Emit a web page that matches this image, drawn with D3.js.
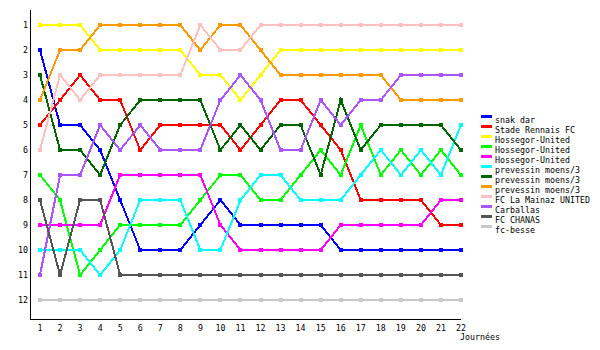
<!DOCTYPE html>
<html>
<head>
<meta charset="utf-8">
<script src="https://cdn.jsdelivr.net/npm/d3@7"></script>
<style>
  body { margin: 0; background: #fff; }
  text { font-family: "DejaVu Sans Mono", monospace; font-size: 8.3px; fill: #000; }
</style>
</head>
<body>
<script>
var width = 600,
    height = 350;

var rounds = d3.range(1, 23);
var rankTicks = d3.range(1, 13);

var teams = ['snak dar', 'Stade Rennais FC', 'Hossegor-United', 'Hossegor-United',
    'Hossegor-United', 'prevessin moens/3', 'prevessin moens/3', 'prevessin moens/3',
    'FC La Mainaz UNITED', 'Carballas', 'FC CHANAS', 'fc-besse'];

var colors = ['#0000ff', '#ff0000', '#ffff00', '#00ff00', '#ff00ff', '#00ffff',
    '#006400', '#ff9900', '#ffc0c0', '#aa55ff', '#555555', '#c8c8c8'];

// rank per round, rounds 1..22
var snakDar      = [2, 5, 5, 6, 8, 10, 10, 10, 9, 8, 9, 9, 9, 9, 9, 10, 10, 10, 10, 10, 10, 10];
var stadeRennais = [5, 4, 3, 4, 4, 6, 5, 5, 5, 5, 6, 5, 4, 4, 5, 6, 8, 8, 8, 8, 9, 9];
var hossegorA    = [1, 1, 1, 2, 2, 2, 2, 2, 3, 3, 4, 3, 2, 2, 2, 2, 2, 2, 2, 2, 2, 2];
var hossegorB    = [7, 8, 11, 10, 9, 9, 9, 9, 8, 7, 7, 8, 8, 7, 6, 7, 5, 7, 6, 7, 6, 7];
var hossegorC    = [9, 9, 9, 9, 7, 7, 7, 7, 7, 9, 10, 10, 10, 10, 10, 9, 9, 9, 9, 9, 8, 8];
var prevessinA   = [10, 10, 10, 11, 10, 8, 8, 8, 10, 10, 8, 7, 7, 8, 8, 8, 7, 6, 7, 6, 7, 5];
var prevessinB   = [3, 6, 6, 7, 5, 4, 4, 4, 4, 6, 5, 6, 5, 5, 7, 4, 6, 5, 5, 5, 5, 6];
var prevessinC   = [4, 2, 2, 1, 1, 1, 1, 1, 2, 1, 1, 2, 3, 3, 3, 3, 3, 3, 4, 4, 4, 4];
var laMainaz     = [6, 3, 4, 3, 3, 3, 3, 3, 1, 2, 2, 1, 1, 1, 1, 1, 1, 1, 1, 1, 1, 1];
var carballas    = [11, 7, 7, 5, 6, 5, 6, 6, 6, 4, 3, 4, 6, 6, 4, 5, 4, 4, 3, 3, 3, 3];
var chanas       = [8, 11, 8, 8, 11, 11, 11, 11, 11, 11, 11, 11, 11, 11, 11, 11, 11, 11, 11, 11, 11, 11];
var besse        = [12, 12, 12, 12, 12, 12, 12, 12, 12, 12, 12, 12, 12, 12, 12, 12, 12, 12, 12, 12, 12, 12];

var series = [snakDar, stadeRennais, hossegorA, hossegorB, hossegorC, prevessinA,
    prevessinB, prevessinC, laMainaz, carballas, chanas, besse];

var svg = d3.select('body')
    .append('svg')
    .attr('width', width)
    .attr('height', height);

var x = d3.scaleLinear()
    .domain([1, 22])
    .range([40, 461]);

var y = d3.scaleLinear()
    .domain([1, 12])
    .range([25, 300]);

// axes
svg.append('line')
    .attr('x1', 30.5).attr('x2', 30.5)
    .attr('y1', 10).attr('y2', 320)
    .attr('stroke', '#000').attr('stroke-width', 1);

svg.append('line')
    .attr('x1', 30).attr('x2', 461)
    .attr('y1', 319.5).attr('y2', 319.5)
    .attr('stroke', '#000').attr('stroke-width', 1);

svg.selectAll('text.ylab')
    .data(rankTicks)
    .enter()
    .append('text')
    .classed('ylab', true)
    .attr('x', 28)
    .attr('y', function(d) { return y(d) + 3; })
    .attr('text-anchor', 'end')
    .text(function(d) { return d; });

svg.selectAll('text.xlab')
    .data(rounds)
    .enter()
    .append('text')
    .classed('xlab', true)
    .attr('x', function(d) { return x(d); })
    .attr('y', 331)
    .attr('text-anchor', 'middle')
    .text(function(d) { return d; });

svg.append('text')
    .attr('x', 460)
    .attr('y', 340)
    .text('Journées');

// lines
var line = d3.line()
    .x(function(d, i) { return x(rounds[i]); })
    .y(function(d) { return y(d); });

series.forEach(function(s, k) {
    svg.append('path')
        .datum(s)
        .attr('d', line)
        .attr('fill', 'none')
        .attr('stroke', colors[k])
        .attr('stroke-width', 2)
        .attr('shape-rendering', 'crispEdges');

    svg.selectAll('rect.pt' + k)
        .data(s)
        .enter()
        .append('rect')
        .classed('pt' + k, true)
        .attr('x', function(d, i) { return x(rounds[i]) - 2; })
        .attr('y', function(d) { return y(d) - 2; })
        .attr('width', 4)
        .attr('height', 4)
        .attr('fill', colors[k])
        .attr('shape-rendering', 'crispEdges');
});

// legend
var legend = svg.selectAll('g.leg')
    .data(teams)
    .enter()
    .append('g')
    .classed('leg', true)
    .attr('transform', function(d, i) { return 'translate(481,' + (120 + i * 10) + ')'; });

legend.append('rect')
    .attr('x', 0)
    .attr('y', -5)
    .attr('width', 11)
    .attr('height', 3)
    .attr('fill', function(d, i) { return colors[i]; });

legend.append('text')
    .attr('x', 14)
    .attr('y', 3)
    .text(function(d) { return d; });
</script>
</body>
</html>
